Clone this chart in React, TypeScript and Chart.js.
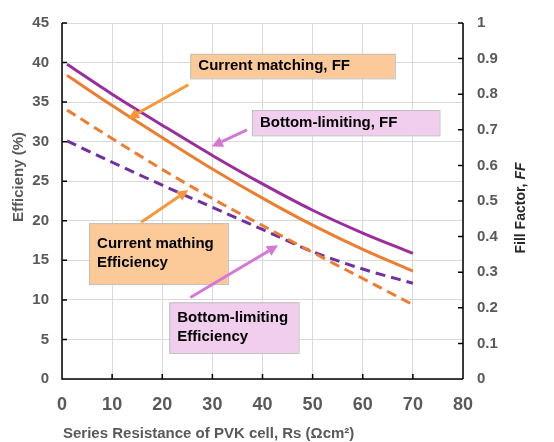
import React, { useEffect, useRef } from "react";
import { Chart, registerables } from "chart.js";

Chart.register(...registerables);

// ---- data ----
const rsValues = [1, 10, 20, 30, 40, 50, 60, 70];
const ffCurrentMatching = [0.853, 0.768, 0.678, 0.59, 0.508, 0.432, 0.364, 0.303];
const ffBottomLimiting = [0.884, 0.8, 0.713, 0.628, 0.548, 0.474, 0.41, 0.353];
const effCurrentMatching = [34.0, 30.4, 26.5, 22.8, 19.4, 16.0, 12.7, 9.4];
const effBottomLimiting = [30.1, 27.4, 24.5, 21.7, 18.9, 16.1, 13.9, 12.1];

const xTitle = "Series Resistance of PVK cell, Rs (Ωcm²)";
const yTitle = "Efficieny (%)";
const y2TitleMain = "Fill Factor, ";
const y2TitleItalic = "FF";

const ORANGE = "#ED7D31";
const PURPLE = "#992E9C";
const VIOLET = "#7030A0";
const BOX_ORANGE = "#FCC998";
const BOX_PINK = "#F1CDEE";
const ARROW_ORANGE = "#F7963A";
const ARROW_PINK = "#D578D5";

// annotations in data units (x: Rs, y: efficiency axis)
const boxes = [
  { x0: 25.6, x1: 66.4, y0: 41.1, y1: 38.0, fill: BOX_ORANGE, lines: ["Current matching, FF"] },
  { x0: 37.9, x1: 75.3, y0: 34.0, y1: 30.8, fill: BOX_PINK, lines: ["Bottom-limiting, FF"] },
  { x0: 5.4, x1: 33.1, y0: 19.7, y1: 12.0, fill: BOX_ORANGE, lines: ["Current mathing", "Efficiency"] },
  { x0: 21.4, x1: 47.2, y0: 9.7, y1: 3.3, fill: BOX_PINK, lines: ["Bottom-limiting", "Efficiency"] },
];
const arrows = [
  { x0: 25.2, y0: 37.2, x1: 13.2, y1: 32.9, color: ARROW_ORANGE },
  { x0: 36.9, y0: 31.5, x1: 29.9, y1: 29.4, color: ARROW_PINK },
  { x0: 15.8, y0: 19.8, x1: 25.2, y1: 23.9, color: ARROW_ORANGE },
  { x0: 25.6, y0: 10.3, x1: 43.1, y1: 16.9, color: ARROW_PINK },
];

const FONT = "'Liberation Sans', Arial, sans-serif";

const overlayPlugin = {
  id: "overlay",
  afterDatasetsDraw(chart: any) {
    const { ctx, scales } = chart;
    const xs = scales.x;
    const ys = scales.y;
    const y2 = scales.y2;
    ctx.save();
    // boxes
    boxes.forEach((b) => {
      const l = xs.getPixelForValue(b.x0);
      const r = xs.getPixelForValue(b.x1);
      const t = ys.getPixelForValue(b.y0);
      const bt = ys.getPixelForValue(b.y1);
      ctx.fillStyle = b.fill;
      ctx.fillRect(l, t, r - l, bt - t);
      ctx.strokeStyle = "#BFBFBF";
      ctx.lineWidth = 1;
      ctx.strokeRect(l + 0.5, t + 0.5, r - l, bt - t);
      ctx.fillStyle = "#000000";
      ctx.font = `bold 15px ${FONT}`;
      ctx.textBaseline = "middle";
      ctx.textAlign = "left";
      const n = b.lines.length;
      const lh = 19;
      const cy = (t + bt) / 2;
      b.lines.forEach((s, i) => {
        ctx.fillText(s, l + 8, cy + (i - (n - 1) / 2) * lh);
      });
    });
    // arrows
    arrows.forEach((a) => {
      const x0 = xs.getPixelForValue(a.x0);
      const y0 = ys.getPixelForValue(a.y0);
      const x1 = xs.getPixelForValue(a.x1);
      const y1 = ys.getPixelForValue(a.y1);
      const ang = Math.atan2(y1 - y0, x1 - x0);
      const hl = 11;
      const hw = 5.5;
      const bx = x1 - hl * Math.cos(ang);
      const by = y1 - hl * Math.sin(ang);
      ctx.strokeStyle = a.color;
      ctx.lineWidth = 3;
      ctx.beginPath();
      ctx.moveTo(x0, y0);
      ctx.lineTo(bx, by);
      ctx.stroke();
      ctx.fillStyle = a.color;
      ctx.beginPath();
      ctx.moveTo(x1, y1);
      ctx.lineTo(bx + hw * Math.sin(ang), by - hw * Math.cos(ang));
      ctx.lineTo(bx - hw * Math.sin(ang), by + hw * Math.cos(ang));
      ctx.closePath();
      ctx.fill();
    });
    // axes lines and inward ticks
    const left = xs.left;
    const right = xs.right;
    const top = ys.top;
    const bottom = ys.bottom;
    ctx.strokeStyle = "#000000";
    ctx.lineWidth = 1.5;
    ctx.beginPath();
    ctx.moveTo(left, top);
    ctx.lineTo(left, bottom);
    ctx.lineTo(right, bottom);
    ctx.moveTo(right, top);
    ctx.lineTo(right, bottom);
    ys.ticks.forEach((t: any) => {
      const p = ys.getPixelForValue(t.value);
      ctx.moveTo(left, p);
      ctx.lineTo(left + 5, p);
    });
    y2.ticks.forEach((t: any) => {
      const p = y2.getPixelForValue(t.value);
      ctx.moveTo(right, p);
      ctx.lineTo(right - 5, p);
    });
    xs.ticks.forEach((t: any) => {
      const p = xs.getPixelForValue(t.value);
      ctx.moveTo(p, bottom);
      ctx.lineTo(p, bottom - 5);
    });
    ctx.stroke();
    // axis titles
    ctx.fillStyle = "#595959";
    ctx.font = `bold 15px ${FONT}`;
    ctx.textAlign = "left";
    ctx.textBaseline = "middle";
    ctx.fillText(xTitle, left + 1, 434);
    ctx.save();
    ctx.translate(19, 177);
    ctx.rotate(-Math.PI / 2);
    ctx.textAlign = "center";
    ctx.font = `bold 15px ${FONT}`;
    ctx.fillText(yTitle, 0, 0);
    ctx.restore();
    ctx.save();
    ctx.translate(521, 208);
    ctx.rotate(-Math.PI / 2);
    ctx.fillStyle = "#262626";
    ctx.font = `bold 14px ${FONT}`;
    const w1 = ctx.measureText(y2TitleMain).width;
    ctx.font = `italic bold 14px ${FONT}`;
    const w2 = ctx.measureText(y2TitleItalic).width;
    const sx = -(w1 + w2) / 2;
    ctx.textAlign = "left";
    ctx.font = `bold 14px ${FONT}`;
    ctx.fillText(y2TitleMain, sx, 0);
    ctx.font = `italic bold 14px ${FONT}`;
    ctx.fillText(y2TitleItalic, sx + w1, 0);
    ctx.restore();
    ctx.restore();
  },
};

export default function App() {
  const ref = useRef<HTMLCanvasElement | null>(null);
  useEffect(() => {
    if (!ref.current) return;
    const toPts = (ys: number[]) => rsValues.map((x, i) => ({ x, y: ys[i] }));
    const chart = new Chart(ref.current, {
      type: "line",
      data: {
        datasets: [
          {
            label: "Bottom-limiting, FF",
            data: toPts(ffBottomLimiting),
            yAxisID: "y2",
            borderColor: PURPLE,
            borderWidth: 3,
            pointRadius: 0,
            cubicInterpolationMode: "monotone",
          },
          {
            label: "Current matching, FF",
            data: toPts(ffCurrentMatching),
            yAxisID: "y2",
            borderColor: ORANGE,
            borderWidth: 3,
            pointRadius: 0,
            cubicInterpolationMode: "monotone",
          },
          {
            label: "Current matching Efficiency",
            data: toPts(effCurrentMatching),
            yAxisID: "y",
            borderColor: ORANGE,
            borderWidth: 3,
            borderDash: [10, 6],
            pointRadius: 0,
            cubicInterpolationMode: "monotone",
          },
          {
            label: "Bottom-limiting Efficiency",
            data: toPts(effBottomLimiting),
            yAxisID: "y",
            borderColor: VIOLET,
            borderWidth: 3,
            borderDash: [10, 6],
            pointRadius: 0,
            cubicInterpolationMode: "monotone",
          },
        ],
      },
      options: {
        animation: false,
        responsive: false,
        layout: { padding: { top: 20, left: 0, right: 0, bottom: 0 } },
        plugins: { legend: { display: false }, tooltip: { enabled: false } },
        scales: {
          x: {
            type: "linear",
            min: 0,
            max: 80,
            ticks: {
              stepSize: 10,
              color: "#595959",
              font: { family: FONT, size: 18, weight: "bold" },
              padding: 15,
              maxRotation: 0,
            },
            grid: { color: "#D9D9D9", drawTicks: false },
            border: { display: false },
            afterFit: (s: any) => {
              s.height = 63;
            },
          },
          y: {
            position: "left",
            min: 0,
            max: 45,
            ticks: {
              stepSize: 5,
              color: "#595959",
              font: { family: FONT, size: 15, weight: "bold" },
              padding: 13,
            },
            grid: { color: "#D9D9D9", drawTicks: false },
            border: { display: false },
            afterFit: (s: any) => {
              s.width = 62;
            },
          },
          y2: {
            position: "right",
            min: 0,
            max: 1,
            ticks: {
              stepSize: 0.1,
              color: "#595959",
              font: { family: FONT, size: 15, weight: "bold" },
              padding: 14,
              callback: (v: any) => {
                const r = Math.round(Number(v) * 10) / 10;
                return r === 0 || r === 1 ? String(r) : r.toFixed(1);
              },
            },
            grid: { display: false, drawTicks: false },
            border: { display: false },
            afterFit: (s: any) => {
              s.width = 91;
            },
          },
        },
      },
      plugins: [overlayPlugin],
    });
    return () => chart.destroy();
  }, []);
  return (
    <div style={{ position: "absolute", left: 0, top: 0, width: 554, height: 442, background: "#fff" }}>
      <canvas ref={ref} width={554} height={442} style={{ width: 554, height: 442, display: "block" }} />
    </div>
  );
}
